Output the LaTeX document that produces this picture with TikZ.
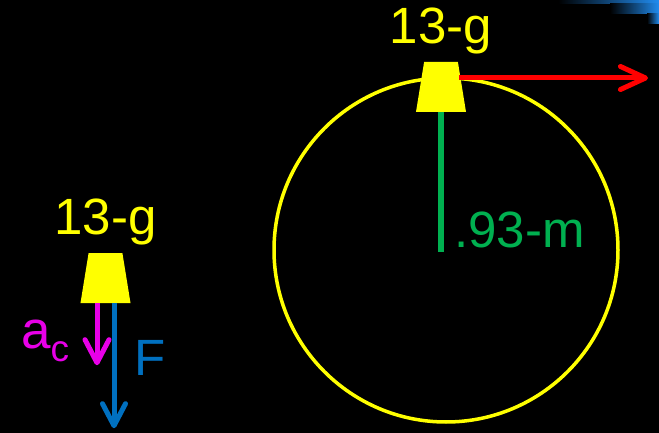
\documentclass[tikz,border=0pt]{standalone}
\usepackage{fontspec}
\setmainfont{Liberation Sans}
\usetikzlibrary{shapes.geometric,arrows.meta,positioning}

\definecolor{massyellow}{RGB}{255,255,0}
\definecolor{velred}{RGB}{255,0,0}
\definecolor{radgreen}{RGB}{0,176,80}
\definecolor{forceblue}{RGB}{0,112,192}
\definecolor{accmagenta}{RGB}{232,0,232}
\definecolor{cornerblue}{RGB}{32,140,240}

\tikzset{
  mass/.style={trapezium, trapezium angle=76.5, trapezium stretches=true,
    minimum width=50pt, minimum height=50pt, inner sep=1pt, fill=massyellow},
  vec/.style={line width=5pt, -{Straight Barb[length=23pt,width=24pt,round]}},
  big/.style={font=\fontsize{51}{60}\selectfont, inner sep=0pt}
}

\begin{document}
\begin{tikzpicture}[x=1pt,y=-1pt]

  \fill[black] (0,0) rectangle (659,433);
  \useasboundingbox (0,0) rectangle (659,433);

  % corner decoration
  \shade[left color=black, right color=cornerblue] (558,0) rectangle (659,3.3);
  \shade[left color=black, right color=cornerblue] (610,3.3) rectangle (659,14);
  \shade[left color=black, right color=cornerblue] (647,14) rectangle (659,24);

  % circular path
  \node[circle, draw=massyellow, line width=3.5pt, minimum size=344pt,
    inner sep=0pt] (orbit) at (446,250) {};

  % mass on the circle
  \node[mass] (top) at (441,87) {};
  \node[big, text=massyellow, above=8pt of top] (toplabel) {13-g};
  \coordinate (vtip) at (648,78);
  \draw[vec, velred, shorten <=-3pt,
    -{Straight Barb[length=25pt,width=23pt,round]}] (top.east |- vtip) -- (vtip);
  \coordinate (rend) at (441,252);
  \draw[radgreen, line width=5.5pt] (top.south) -- (rend);
  \node[big, text=radgreen, anchor=base west] (radius) at (454,247) {.93-m};

  % free body diagram
  \node[mass] (lmass) at (105.5,278) {};
  \node[big, text=massyellow, above=7.5pt of lmass] (lmasslabel) {13-g};
  \coordinate (acend) at ([xshift=-8.5pt,yshift=-62pt]lmass.south);
  \coordinate (fend) at ([xshift=8.5pt,yshift=-125pt]lmass.south);
  \draw[vec, accmagenta] ([xshift=-8.5pt]lmass.south) -- (acend);
  \draw[vec, forceblue, -{Straight Barb[length=22pt,width=23pt,round]}]
    ([xshift=8.5pt]lmass.south) -- (fend);
  \node[text=accmagenta, anchor=base west, inner sep=0pt,
    font=\fontsize{53}{60}\selectfont] (aclabel) at (21,348)
    {a\raisebox{-13pt}{\fontsize{37}{40}\selectfont c}};
  \node[big, text=forceblue, anchor=base west] (flabel) at (134,375) {F};

\end{tikzpicture}
\end{document}
